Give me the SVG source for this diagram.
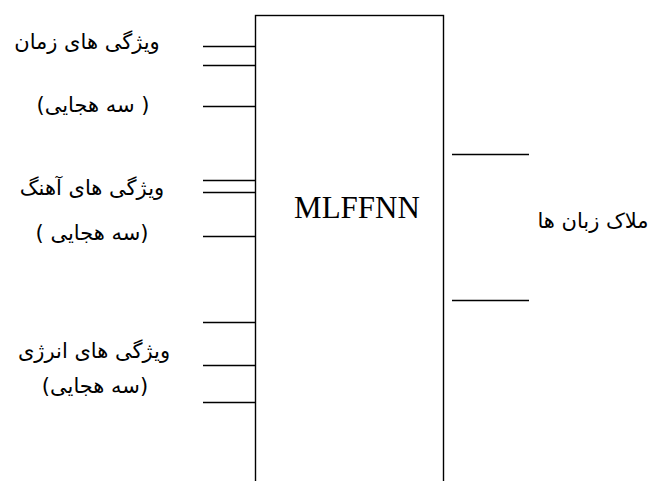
<svg xmlns="http://www.w3.org/2000/svg" width="657" height="481" viewBox="0 0 657 481">
  <style>
    .wire { stroke: #000; stroke-width: 1.4; fill: none; }
    .box { stroke: #000; stroke-width: 1.4; fill: #fff; }
    .fa { font-family: "DejaVu Sans", "Noto Sans", sans-serif; font-size: 21px; fill: #000; text-anchor: middle; direction: rtl; }
    .title { font-family: "Liberation Serif", "Times New Roman", serif; font-size: 31px; fill: #000; text-anchor: middle; }
  </style>

  <!-- network block -->
  <g id="mlffnn">
    <rect class="box" x="255.5" y="15.5" width="188" height="500"/>
    <text class="title" x="357" y="218">MLFFNN</text>
  </g>

  <!-- input feature labels -->
  <g id="time-features">
    <text class="fa" x="87" y="49">ویژگی های زمان</text>
    <text class="fa" x="93" y="112">( سه هجایی)</text>
  </g>
  <g id="pitch-features">
    <text class="fa" x="92" y="195">ویژگی های آهنگ</text>
    <text class="fa" x="92" y="240">(سه هجایی  )</text>
  </g>
  <g id="energy-features">
    <text class="fa" x="94" y="358">ویژگی های انرژی</text>
    <text class="fa" x="95" y="393">(سه هجایی)</text>
  </g>

  <!-- output label -->
  <g id="language-score">
    <text class="fa" x="593" y="228">ملاک زبان ها</text>
  </g>

  <!-- input and output connectors -->
  <g id="connectors">
    <line class="wire" x1="203" y1="46.5" x2="256" y2="46.5"/>
    <line class="wire" x1="203" y1="65.5" x2="256" y2="65.5"/>
    <line class="wire" x1="203" y1="106.5" x2="256" y2="106.5"/>
    <line class="wire" x1="203" y1="180.5" x2="256" y2="180.5"/>
    <line class="wire" x1="203" y1="192.5" x2="256" y2="192.5"/>
    <line class="wire" x1="203" y1="236.5" x2="256" y2="236.5"/>
    <line class="wire" x1="203" y1="322.5" x2="256" y2="322.5"/>
    <line class="wire" x1="203" y1="365.5" x2="256" y2="365.5"/>
    <line class="wire" x1="203" y1="402.5" x2="256" y2="402.5"/>
    <line class="wire" x1="452" y1="154.5" x2="529" y2="154.5"/>
    <line class="wire" x1="452" y1="300.5" x2="529" y2="300.5"/>
  </g>
</svg>
